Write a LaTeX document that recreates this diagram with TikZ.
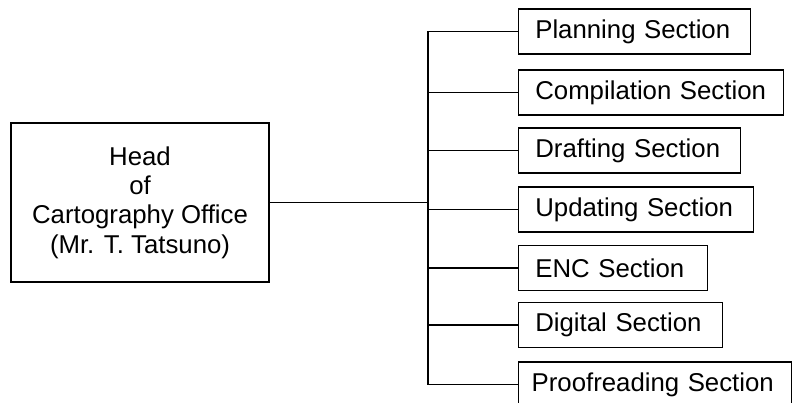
\documentclass[tikz,border=0pt]{standalone}
\usepackage{fontspec}
\setmainfont{Liberation Sans}
\usetikzlibrary{positioning}

\tikzset{
  headbox/.style={draw, line width=1.6pt, minimum width=7.74cm, minimum height=4.77cm,
    align=center, font=\fontsize{22}{25}\selectfont},
  secbox/.style={draw, line width=1.1pt, anchor=west, minimum height=1.35cm,
    inner xsep=0.5cm, align=left, font=\fontsize{22}{25}\selectfont},
  link/.style={line width=1.1pt}
}

\begin{document}
\begin{tikzpicture}[x=0.03cm, y=-0.03cm]
    \useasboundingbox (0, 0) rectangle (793, 403);

    \node [headbox] (head) at (140, 202.5) {Head\\of\\Cartography Office\\(Mr. T. Tatsuno)};

    \node [secbox, text width=5.96cm] (plan) at (518, 31.5) {Planning Section};
    \node [secbox, text width=6.95cm] (comp) at (518, 92.5) {Compilation Section};
    \node [secbox, text width=5.66cm] (draft) at (518, 150.5) {Drafting Section};
    \node [secbox, text width=6.05cm] (upd) at (518, 209.5) {Updating Section};
    \node [secbox, text width=4.67cm] (enc) at (518, 268) {ENC Section};
    \node [secbox, text width=5.12cm] (digi) at (518, 325) {Digital Section};
    \node [secbox, text width=7.4cm, inner xsep=0.39cm] (proof) at (518, 384.5) {Proofreading Section};

    \coordinate (trunk) at (428, 0);

    \draw [link] (plan.west) -- (plan.west -| trunk) -- (proof.west -| trunk) -- (proof.west);
    \draw [link] (comp.west) -- (comp.west -| trunk);
    \draw [link] (draft.west) -- (draft.west -| trunk);
    \draw [link] (upd.west) -- (upd.west -| trunk);
    \draw [link] (enc.west) -- (enc.west -| trunk);
    \draw [link] (digi.west) -- (digi.west -| trunk);
    \draw [link] (head.east) -- (head.east -| trunk);
\end{tikzpicture}
\end{document}
